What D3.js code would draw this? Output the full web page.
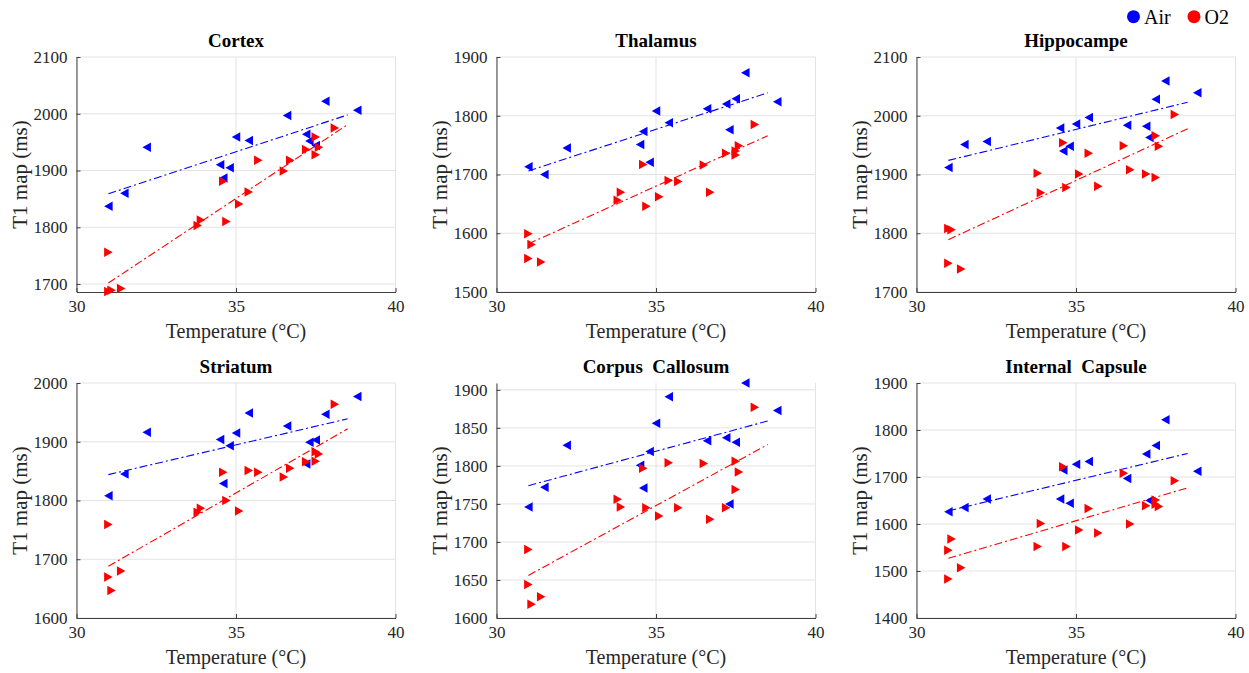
<!DOCTYPE html>
<html>
<head>
<meta charset="utf-8">
<script src="https://cdn.jsdelivr.net/npm/d3@7"></script>
<style>
  html, body { margin: 0; padding: 0; background: #ffffff; }
  svg { display: block; }
  svg text { font-family: "Liberation Serif", "Times New Roman", serif !important; }
</style>
</head>
<body>
<svg id="chart" width="1249" height="673"></svg>
<script>
// ---------------- DATA ----------------
const regions = ["Cortex", "Thalamus", "Hippocampe", "Striatum", "Corpus  Callosum", "Internal  Capsule"];
const seriesNames = ["Air", "O2"];
const xTicks = [30, 35, 40];
const xLimits = [30, 40];

const airTemp = [31.0, 31.5, 32.2, 34.5, 34.6, 34.8, 35.0, 35.4, 36.6, 37.2, 37.3, 37.5, 37.8, 38.8];
const o2Temp  = [31.0, 31.0, 31.1, 31.4, 33.8, 33.9, 34.6, 34.7, 35.1, 35.4, 35.7, 36.5, 36.7, 37.2, 37.5, 37.5, 37.6, 38.1];

const cortexAir     = [1837, 1860, 1941, 1910, 1887, 1905, 1959, 1953, 1997, 1964, 1952, 1944, 2022, 2006];
const thalamusAir   = [1713, 1700, 1745, 1751, 1773, 1721, 1808, 1788, 1812, 1820, 1776, 1829, 1873, 1824];
const hippocampeAir = [1912, 1951, 1956, 1979, 1940, 1948, 1986, 1997, 1984, 1982, 1963, 2028, 2059, 2039];
const striatumAir   = [1808, 1845, 1916, 1904, 1829, 1893, 1915, 1949, 1927, 1862, 1899, 1903, 1947, 1977];
const corpusAir     = [1746, 1772, 1827, 1801, 1771, 1819, 1856, 1891, 1833, 1837, 1750, 1831, 1909, 1873];
const capsuleAir    = [1626, 1635, 1653, 1653, 1715, 1644, 1727, 1733, 1697, 1749, 1650, 1767, 1822, 1712];

const cortexO2     = [1756, 1687, 1689, 1692, 1803, 1813, 1881, 1810, 1841, 1862, 1918, 1899, 1918, 1937, 1959, 1928, 1941, 1975];
const thalamusO2   = [1599, 1557, 1581, 1551, 1656, 1670, 1717, 1646, 1662, 1690, 1688, 1716, 1670, 1736, 1733, 1740, 1749, 1785];
const hippocampeO2 = [1808, 1749, 1806, 1739, 1902, 1869, 1954, 1878, 1901, 1936, 1880, 1949, 1908, 1901, 1966, 1895, 1948, 2002];
const striatumO2   = [1759, 1670, 1647, 1680, 1780, 1787, 1848, 1800, 1782, 1851, 1848, 1840, 1855, 1866, 1883, 1867, 1879, 1964];
const corpusO2     = [1690, 1644, 1618, 1628, 1756, 1746, 1797, 1745, 1734, 1804, 1745, 1803, 1730, 1745, 1806, 1769, 1792, 1877];
const capsuleO2    = [1544, 1483, 1568, 1507, 1552, 1601, 1722, 1552, 1587, 1633, 1581, 1708, 1600, 1639, 1651, 1642, 1637, 1692];

// regression line end points (temperature 31 -> 38.5)
const fitTemp = [31.0, 38.5];
const cortexAirFit     = [1859, 1998];
const thalamusAirFit   = [1706, 1839];
const hippocampeAirFit = [1924, 2023];
const striatumAirFit   = [1844, 1939];
const corpusAirFit     = [1774, 1859];
const capsuleAirFit    = [1628, 1750];
const cortexO2Fit      = [1702, 1981];
const thalamusO2Fit    = [1582, 1766];
const hippocampeO2Fit  = [1789, 1978];
const striatumO2Fit    = [1688, 1922];
const corpusO2Fit      = [1656, 1828];
const capsuleO2Fit     = [1527, 1677];

const yLimits = [[1686, 2100], [1500, 1900], [1700, 2100], [1600, 2000], [1600, 1909], [1400, 1900]];
const yTicks = [
  [1700, 1800, 1900, 2000, 2100],
  [1500, 1600, 1700, 1800, 1900],
  [1700, 1800, 1900, 2000, 2100],
  [1600, 1700, 1800, 1900, 2000],
  [1600, 1650, 1700, 1750, 1800, 1850, 1900],
  [1400, 1500, 1600, 1700, 1800, 1900]
];

const airValues = [cortexAir, thalamusAir, hippocampeAir, striatumAir, corpusAir, capsuleAir];
const o2Values  = [cortexO2, thalamusO2, hippocampeO2, striatumO2, corpusO2, capsuleO2];
const airFits   = [cortexAirFit, thalamusAirFit, hippocampeAirFit, striatumAirFit, corpusAirFit, capsuleAirFit];
const o2Fits    = [cortexO2Fit, thalamusO2Fit, hippocampeO2Fit, striatumO2Fit, corpusO2Fit, capsuleO2Fit];

// ---------------- LAYOUT ----------------
const colLeft = [76.5, 496.5, 916.5];
const rowTop = [57, 383];
const plotW = 319, plotH = 235;
const AIR = "#0000ff", O2 = "#ff0000";
const AXIS = "#404040", TXT = "#262626", GRID = "#e3e3e3";
const SERIF = "'Liberation Serif', 'Times New Roman', serif";

const svg = d3.select("#chart");
svg.append("rect").attr("width", 1249).attr("height", 673).attr("fill", "#fff");

function triangle(dir) {
  // dir = -1 left-pointing, +1 right-pointing
  const w = 8.5, h = 9.5;
  return `M${dir * w / 2},0 L${-dir * w / 2},${-h / 2} L${-dir * w / 2},${h / 2} Z`;
}

regions.forEach((name, i) => {
  const left = colLeft[i % 3], top = rowTop[Math.floor(i / 3)];
  const x = d3.scaleLinear().domain(xLimits).range([left, left + plotW]);
  const y = d3.scaleLinear().domain(yLimits[i]).range([top + plotH, top]);
  const g = svg.append("g");

  // grid
  g.append("g").selectAll("line").data(xTicks).join("line")
    .attr("x1", d => x(d)).attr("x2", d => x(d))
    .attr("y1", top).attr("y2", top + plotH)
    .attr("stroke", GRID).attr("stroke-width", 1);
  g.append("g").selectAll("line").data(yTicks[i]).join("line")
    .attr("x1", left).attr("x2", left + plotW)
    .attr("y1", d => y(d)).attr("y2", d => y(d))
    .attr("stroke", GRID).attr("stroke-width", 1);

  // axes
  const xAxis = d3.axisBottom(x).tickValues(xTicks).tickFormat(d3.format("d"))
    .tickSizeInner(-4).tickSizeOuter(0).tickPadding(8);
  const gx = g.append("g").attr("transform", `translate(0,${top + plotH})`).call(xAxis)
    .attr("font-family", SERIF);
  gx.select(".domain").attr("stroke", AXIS);
  gx.selectAll(".tick line").attr("stroke", AXIS);
  gx.selectAll(".tick text").attr("fill", TXT).attr("font-size", 17)
    .style("font-family", SERIF).attr("dy", "0.72em");

  const yAxis = d3.axisLeft(y).tickValues(yTicks[i]).tickFormat(d3.format("d"))
    .tickSizeInner(-4).tickSizeOuter(0).tickPadding(9);
  const gy = g.append("g").attr("transform", `translate(${left},0)`).call(yAxis)
    .attr("font-family", SERIF);
  gy.select(".domain").attr("stroke", AXIS);
  gy.selectAll(".tick line").attr("stroke", AXIS);
  gy.selectAll(".tick text").attr("fill", TXT).attr("font-size", 17)
    .style("font-family", SERIF);

  // fit lines
  const line = d3.line().x(d => x(d[0])).y(d => y(d[1]));
  g.append("path").datum(fitTemp.map((t, k) => [t, airFits[i][k]]))
    .attr("d", line).attr("fill", "none").attr("stroke", AIR).attr("stroke-width", 1.1)
    .attr("stroke-dasharray", "8,3,2,3");
  g.append("path").datum(fitTemp.map((t, k) => [t, o2Fits[i][k]]))
    .attr("d", line).attr("fill", "none").attr("stroke", O2).attr("stroke-width", 1.1)
    .attr("stroke-dasharray", "8,3,2,3");

  // markers
  g.append("g").selectAll("path").data(airTemp.map((t, k) => [t, airValues[i][k]])).join("path")
    .attr("d", triangle(-1)).attr("fill", AIR)
    .attr("transform", d => `translate(${x(d[0])},${y(d[1])})`);
  g.append("g").selectAll("path").data(o2Temp.map((t, k) => [t, o2Values[i][k]])).join("path")
    .attr("d", triangle(1)).attr("fill", O2)
    .attr("transform", d => `translate(${x(d[0])},${y(d[1])})`);

  // title
  g.append("text").attr("x", left + plotW / 2).attr("y", top - 10)
    .attr("text-anchor", "middle").attr("font-weight", "bold").attr("font-size", 19)
    .attr("fill", "#000").style("white-space", "pre").text(name);

  // x label
  g.append("text").attr("x", left + plotW / 2).attr("y", top + plotH + 46)
    .attr("text-anchor", "middle").attr("font-size", 20).attr("fill", TXT)
    .text("Temperature (°C)");

  // y label
  g.append("text").attr("transform", `translate(${left - 50},${top + plotH / 2}) rotate(-90)`)
    .attr("text-anchor", "middle").attr("font-size", 21).attr("fill", TXT)
    .text("T1 map (ms)");
});

// legend
const legend = svg.append("g");
const legendItems = [
  {name: seriesNames[0], color: AIR, cx: 1133.5, tx: 1144},
  {name: seriesNames[1], color: O2, cx: 1194, tx: 1204.5}
];
legendItems.forEach(it => {
  legend.append("circle").attr("cx", it.cx).attr("cy", 16.7).attr("r", 6.5).attr("fill", it.color);
  legend.append("text").attr("x", it.tx).attr("y", 23.5).attr("font-size", 20).attr("fill", "#000").text(it.name);
});
</script>
</body>
</html>
